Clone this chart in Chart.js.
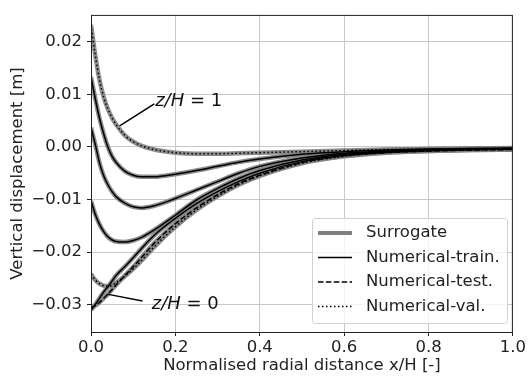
<!DOCTYPE html>
<html>
<head>
<meta charset="utf-8">
<script src="https://cdn.jsdelivr.net/npm/chart.js@4.4.1/dist/chart.umd.min.js"></script>
<style>
  body { margin: 0; background: #fff; }
</style>
</head>
<body>
<canvas id="myChart" width="528" height="377"></canvas>
<script>
// normalised radial distance x/H
var xs = [0, 0.01, 0.02, 0.03, 0.04, 0.05, 0.06, 0.08, 0.1, 0.12, 0.15, 0.2, 0.25, 0.3, 0.35, 0.4, 0.5, 0.6, 0.7, 0.8, 0.9, 1.0];

// vertical displacement [m], one array per depth curve
var curveTop = [0.0232, 0.0175, 0.0128, 0.0095, 0.0072, 0.0055, 0.0042, 0.0022, 0.0010, 0.0002, -0.0005, -0.0011, -0.0013, -0.0013, -0.0012, -0.0011, -0.0009, -0.0007, -0.0005, -0.0004, -0.0003, -0.0003];
var curve2 = [0.0133, 0.0092, 0.0055, 0.0025, 0.0000, -0.0018, -0.0030, -0.0046, -0.0054, -0.0057, -0.0057, -0.0052, -0.0045, -0.0037, -0.0029, -0.0023, -0.0014, -0.0009, -0.0006, -0.0004, -0.0003, -0.0002];
var curve3 = [0.0037, 0.0005, -0.0030, -0.0055, -0.0072, -0.0085, -0.0095, -0.0107, -0.0114, -0.0116, -0.0112, -0.0098, -0.0082, -0.0066, -0.0050, -0.0037, -0.0021, -0.0012, -0.0008, -0.0005, -0.0004, -0.0003];
var curve4 = [-0.0103, -0.0128, -0.0147, -0.0161, -0.0171, -0.0177, -0.0180, -0.0181, -0.0178, -0.0172, -0.0158, -0.0130, -0.0101, -0.0079, -0.0060, -0.0045, -0.0025, -0.0014, -0.0009, -0.0006, -0.0005, -0.0004];
var curve5 = [-0.0242, -0.0253, -0.0260, -0.0264, -0.0265, -0.0263, -0.0258, -0.0246, -0.0232, -0.0216, -0.0190, -0.0152, -0.0120, -0.0094, -0.0072, -0.0055, -0.0031, -0.0018, -0.0011, -0.0008, -0.0006, -0.0005];
var curve6 = [-0.0310, -0.0300, -0.0288, -0.0276, -0.0266, -0.0255, -0.0244, -0.0228, -0.0211, -0.0193, -0.0168, -0.0136, -0.0108, -0.0085, -0.0066, -0.0050, -0.0028, -0.0016, -0.0010, -0.0007, -0.0005, -0.0004];
var curveBottom = [-0.0306, -0.0302, -0.0296, -0.0288, -0.0280, -0.0271, -0.0262, -0.0245, -0.0228, -0.0210, -0.0183, -0.0146, -0.0116, -0.0091, -0.0070, -0.0054, -0.0030, -0.0017, -0.0011, -0.0008, -0.0006, -0.0005];

// which numerical set each curve belongs to
var curves = [curveTop, curve2, curve3, curve4, curve5, curve6, curveBottom];
var curveKind = ['val', 'train', 'train', 'train', 'val', 'train', 'test'];

var legendLabels = ['Surrogate', 'Numerical-train.', 'Numerical-test.', 'Numerical-val.'];

var FONT = 'DejaVu Sans';
var GRAY = 'rgba(128,128,128,0.9)';
var dashFor = { train: [], test: [5.5, 2.4], val: [1.5, 2.5] };

function pts(ys) {
  return xs.map(function (x, i) { return { x: x, y: ys[i] }; });
}

var datasets = [];
curves.forEach(function (ys, i) {
  datasets.push({
    label: 'Surrogate ' + i,
    data: pts(ys),
    borderColor: GRAY,
    borderWidth: 4.5,
    order: 2
  });
  datasets.push({
    label: curveKind[i] + ' ' + i,
    data: pts(ys),
    borderColor: '#000',
    borderWidth: 1.5,
    borderDash: dashFor[curveKind[i]],
    order: 1
  });
});

function fmtY(v) {
  var s = Math.abs(v).toFixed(2);
  return (v < -1e-9 ? '\u2212' : '') + s;
}

var extras = {
  id: 'extras',
  afterDatasetsDraw: function (chart) {
    var c = chart.ctx, a = chart.chartArea;
    var sx = chart.scales.x, sy = chart.scales.y;
    c.save();
    // frame
    c.strokeStyle = '#222';
    c.lineWidth = 1;
    c.strokeRect(a.left + 0.5, a.top + 0.5, a.right - a.left - 1, a.bottom - a.top);

    // annotations
    function note(x0, y0, x1, y1, tx, ty, rest) {
      c.strokeStyle = '#000';
      c.lineWidth = 1.5;
      c.setLineDash([]);
      c.beginPath();
      c.moveTo(sx.getPixelForValue(x0), sy.getPixelForValue(y0));
      c.lineTo(sx.getPixelForValue(x1), sy.getPixelForValue(y1));
      c.stroke();
      var px = sx.getPixelForValue(tx), py = sy.getPixelForValue(ty);
      c.fillStyle = '#111';
      c.textBaseline = 'middle';
      c.textAlign = 'left';
      c.font = 'italic 18px ' + FONT;
      c.fillText('z/H', px, py);
      var w = c.measureText('z/H').width;
      c.font = '18px ' + FONT;
      c.fillText(rest, px + w, py);
    }
    note(0.068, 0.0040, 0.15, 0.0082, 0.152, 0.0086, ' = 1');
    note(0.038, -0.0280, 0.122, -0.0293, 0.144, -0.0299, ' = 0');

    // legend
    var bx = 312, by = 218, bw = 195, bh = 105;
    c.fillStyle = 'rgba(255,255,255,0.8)';
    c.strokeStyle = '#d0d0d0';
    c.lineWidth = 1;
    c.beginPath();
    c.roundRect(bx + 0.5, by + 0.5, bw, bh, 3);
    c.fill();
    c.stroke();
    var styles = [
      { col: 'rgb(128,128,128)', w: 4, dash: [] },
      { col: '#000', w: 1.5, dash: dashFor.train },
      { col: '#000', w: 1.5, dash: dashFor.test },
      { col: '#000', w: 1.5, dash: dashFor.val }
    ];
    c.font = '16.5px ' + FONT;
    c.textBaseline = 'middle';
    c.textAlign = 'left';
    legendLabels.forEach(function (lab, i) {
      var yy = 233 + i * 24.5;
      var s = styles[i];
      c.strokeStyle = s.col;
      c.lineWidth = s.w;
      c.setLineDash(s.dash);
      c.beginPath();
      c.moveTo(318, yy);
      c.lineTo(352, yy);
      c.stroke();
      c.setLineDash([]);
      c.fillStyle = '#222';
      c.fillText(lab, 366, yy);
    });
    c.restore();
  }
};

var ctx = document.getElementById('myChart').getContext('2d');

var myChart = new Chart(ctx, {
  type: 'line',
  data: { datasets: datasets },
  options: {
    responsive: false,
    devicePixelRatio: 1,
    animation: false,
    events: [],
    layout: { padding: { top: 14, right: 12, left: 0, bottom: 0 } },
    elements: {
      point: { radius: 0 },
      line: { cubicInterpolationMode: 'monotone', fill: false }
    },
    plugins: {
      legend: { display: false },
      tooltip: { enabled: false }
    },
    scales: {
      x: {
        type: 'linear',
        min: 0,
        max: 1,
        afterFit: function (s) { s.height = 45; },
        afterBuildTicks: function (s) {
          s.ticks = [0, 0.2, 0.4, 0.6, 0.8, 1.0].map(function (v) { return { value: v }; });
        },
        ticks: {
          color: '#222',
          font: { family: FONT, size: 16.5 },
          padding: 2,
          maxRotation: 0,
          callback: function (v) { return v.toFixed(1); }
        },
        grid: { color: '#c8c8c8', tickColor: '#222', tickLength: 4 },
        border: { display: false },
        title: {
          display: true,
          text: 'Normalised radial distance x/H [-]',
          color: '#222',
          font: { family: FONT, size: 16.5 },
          padding: { top: 0, bottom: 1 }
        }
      },
      y: {
        type: 'linear',
        min: -0.0352,
        max: 0.0251,
        afterFit: function (s) { s.width = 91; },
        afterBuildTicks: function (s) {
          s.ticks = [-0.03, -0.02, -0.01, 0, 0.01, 0.02].map(function (v) { return { value: v }; });
        },
        ticks: {
          color: '#222',
          font: { family: FONT, size: 16.5 },
          padding: 5,
          callback: function (v) { return fmtY(v); }
        },
        grid: { color: '#c8c8c8', tickColor: '#222', tickLength: 4 },
        border: { display: false },
        title: {
          display: true,
          text: 'Vertical displacement [m]',
          color: '#222',
          font: { family: FONT, size: 16.5 },
          padding: { top: 8, bottom: 0 }
        }
      }
    }
  },
  plugins: [extras]
});
</script>
</body>
</html>
